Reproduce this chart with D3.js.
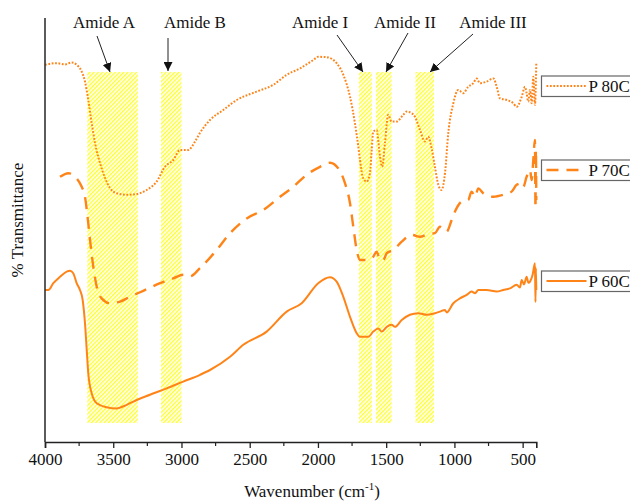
<!DOCTYPE html>
<html>
<head>
<meta charset="utf-8">
<script src="https://cdn.jsdelivr.net/npm/d3@7"></script>
<style>
  body { margin: 0; background: #fff; }
  svg { display: block; font-family: "Liberation Serif", "DejaVu Serif", serif; }
</style>
</head>
<body>
<svg id="chart" width="630" height="504"></svg>
<script>
// FTIR spectra (arbitrary % transmittance, curves are offset)
const wnP80 = [4000,3914,3853,3804,3768,3731,3707,3683,3658,3634,3597,3560,3524,3475,3401,3328,3255,3182,3121,3060,3011,2950,2901,2864,2791,2694,2595,2449,2327,2229,2132,2034,1998,1936,1863,1814,1765,1729,1704,1692,1668,1643,1619,1606,1595,1570,1545,1529,1509,1485,1460,1423,1375,1350,1313,1289,1252,1216,1192,1167,1143,1118,1094,1069,1045,1008,972,935,899,862,837,813,764,715,690,666,617,569,544,507,483,471,459,446,434,422,410,400];
const tP80 = [94.3,94.7,94.4,94.9,94.3,92.6,90.1,85.5,79.8,74.8,69.8,66,63.5,62.2,61.8,62,63,65.1,68.8,70.5,73,73,75.1,77.3,80.5,83,85.5,87.6,89.3,91.8,93.4,95.5,96.3,96.2,94.7,91.8,86.3,79.7,73.8,70.5,65.9,65.1,67.2,73,77.6,78,71.3,68.8,74.7,81.8,80.1,80.1,81.8,82.6,82.2,81.3,78,75.1,76.3,73.4,68.8,64.3,63,67.2,77.2,84.7,88,87.2,88.8,89.7,90.9,89.7,90.1,90.9,88.8,85.9,85.5,84.7,83.8,86.3,88.8,87.2,85.1,88,84.7,91.3,84.3,94.7];

const wnP70 = [3890,3829,3768,3731,3707,3683,3670,3646,3621,3585,3524,3450,3377,3280,3157,3060,2987,2938,2864,2742,2644,2522,2401,2278,2181,2083,1985,1912,1851,1802,1765,1741,1716,1692,1643,1595,1570,1545,1521,1496,1448,1386,1313,1252,1192,1143,1106,1057,1020,996,947,899,874,849,825,789,715,642,581,544,507,495,471,446,434,422,410,406,403,400];
const tP70 = [66.3,67.2,65.9,63.8,61.3,54.7,50.5,43.8,38.8,35.9,34.7,35.1,36.3,37.8,39.7,40.9,41.8,41.4,43.5,48,52.2,55.9,58,61.3,63.8,66.8,68.8,69.8,68.4,64.7,59.7,53.8,48,45.5,45.5,46.3,47.6,45.5,45.5,47.2,48,50.1,51.8,51.3,52,52.2,53.8,52.6,55.5,57.6,60.1,60.5,62.6,61.3,63.4,62.2,61.3,61.8,62.6,64.3,64.7,63.8,66.3,68,65.5,70.5,75.5,58.5,73,60.5];

const wnP60 = [4000,3976,3939,3890,3841,3817,3793,3768,3744,3724,3707,3694,3683,3658,3621,3548,3475,3401,3328,3231,3108,2987,2864,2791,2644,2547,2376,2229,2119,1998,1912,1863,1814,1765,1716,1692,1631,1595,1558,1533,1496,1460,1436,1386,1326,1265,1203,1143,1106,1069,1057,1008,959,910,874,849,825,764,690,642,593,544,520,507,490,471,458,446,427,410,406,403,400];
const tP60 = [38,38,39.7,41.3,42.6,42.8,42.2,39.7,38,35.5,29.7,22.9,17.2,12.2,9.7,8.7,8.4,9.3,10.5,11.8,13.4,15.1,16.8,18,21.3,24.3,27.6,32.6,34.7,39.7,41.2,40.1,36.3,31.3,27.2,26.3,26.3,27.6,28.4,27.6,28.8,29.3,28.8,30.5,31.8,32.2,31.8,32.2,32.6,33,32.4,34.7,35.9,36.8,37.6,37.2,38,38,37.6,38,38.4,39.3,38.6,40.5,39.4,41.3,39.8,40.1,41.8,44.7,35,43.5,38];

const seriesNames = ["P 80C", "P 70C", "P 60C"];
const seriesDash = ["1.8,1.6", "12,8", null];

// band regions (cm-1) and their labels
const bandNames = ["Amide A", "Amide B", "Amide I", "Amide II", "Amide III"];
const bandFrom = [3690, 3150, 1700, 1575, 1285];
const bandTo = [3320, 3000, 1605, 1460, 1150];

const xTicks = [4000, 3500, 3000, 2500, 2000, 1500, 1000, 500];
const xMinor = d3.range(3750, 400, -500);

const svg = d3.select("#chart");
const plotLeft = 45, plotRight = 536.3, plotTop = 18, plotBottom = 442;
const orange = "#ff8418";

const x = d3.scaleLinear().domain([4000, 400]).range([plotLeft, plotRight]);
const y = d3.scaleLinear().domain([0, 106]).range([plotBottom, plotTop]);

// hatch pattern for bands
const defs = svg.append("defs");
const pat = defs.append("pattern")
  .attr("id", "hatch")
  .attr("patternUnits", "userSpaceOnUse")
  .attr("width", 3).attr("height", 3)
  .attr("patternTransform", "rotate(45)");
pat.append("rect").attr("width", 3).attr("height", 3).attr("fill", "#fff");
pat.append("rect").attr("width", 1.3).attr("height", 3).attr("fill", "#ffff20");

const bandTop = 72, bandBottom = 423;
svg.append("g").selectAll("rect")
  .data(bandNames)
  .join("rect")
  .attr("x", (d, i) => x(bandFrom[i]))
  .attr("width", (d, i) => x(bandTo[i]) - x(bandFrom[i]))
  .attr("y", bandTop)
  .attr("height", bandBottom - bandTop)
  .attr("fill", "url(#hatch)");

// curves
const line = d3.line()
  .x(d => x(d[0]))
  .y(d => y(d[1]))
  .curve(d3.curveMonotoneX);

const allData = [
  wnP80.map((w, i) => [w, tP80[i]]),
  wnP70.map((w, i) => [w, tP70[i]]),
  wnP60.map((w, i) => [w, tP60[i]])
];

allData.forEach((d, i) => {
  svg.append("path")
    .datum(d)
    .attr("d", line)
    .attr("fill", "none")
    .attr("stroke", orange)
    .attr("stroke-width", i === 1 ? 2.4 : 2)
    .attr("stroke-dasharray", seriesDash[i]);
});

// axes
const xAxis = svg.append("g")
  .attr("transform", `translate(0,${plotBottom})`)
  .call(d3.axisBottom(x).tickValues(xTicks).tickSize(6).tickPadding(5).tickFormat(d3.format("d")));
xAxis.select(".domain").attr("stroke", "#222").attr("stroke-width", 1.6);
xAxis.selectAll(".tick line").attr("stroke", "#222").attr("stroke-width", 1.3);
xAxis.selectAll("text").attr("font-size", 17).attr("fill", "#111")
  .attr("font-family", "Liberation Serif");

svg.append("g").selectAll("line")
  .data(xMinor)
  .join("line")
  .attr("x1", d => x(d)).attr("x2", d => x(d))
  .attr("y1", plotBottom).attr("y2", plotBottom + 4)
  .attr("stroke", "#222").attr("stroke-width", 1.2);

svg.append("line")
  .attr("x1", plotLeft).attr("x2", plotLeft)
  .attr("y1", plotTop).attr("y2", plotBottom)
  .attr("stroke", "#333").attr("stroke-width", 1.6);

// axis titles
svg.append("text")
  .attr("transform", "translate(23,220) rotate(-90)")
  .attr("text-anchor", "middle")
  .attr("font-size", 17)
  .attr("fill", "#111")
  .text("% Transmittance");

const xt = svg.append("text")
  .attr("x", 312).attr("y", 497)
  .attr("text-anchor", "middle")
  .attr("font-size", 17)
  .attr("fill", "#111");
xt.append("tspan").text("Wavenumber (cm");
xt.append("tspan").attr("font-size", 11).attr("dy", -7).text("-1");
xt.append("tspan").attr("dy", 7).text(")");

// band labels with arrows
defs.append("marker")
  .attr("id", "arrow")
  .attr("viewBox", "0 0 10 10")
  .attr("refX", 10).attr("refY", 5)
  .attr("markerWidth", 9).attr("markerHeight", 9)
  .attr("markerUnits", "userSpaceOnUse")
  .attr("orient", "auto")
  .append("path").attr("d", "M0,0 L10,5 L0,10 Z").attr("fill", "#111");

const labelX = [104, 195, 320, 405, 493];
const arrowFrom = [[97, 36], [168, 38], [337, 35], [408, 33], [473, 34]];
const arrowTo = [[110, 72], [168, 71], [363, 72], [386, 72], [430, 72]];

svg.append("g").selectAll("text")
  .data(bandNames)
  .join("text")
  .attr("x", (d, i) => labelX[i])
  .attr("y", 28)
  .attr("text-anchor", "middle")
  .attr("font-size", 17)
  .attr("fill", "#111")
  .text(d => d);

svg.append("g").selectAll("line")
  .data(bandNames)
  .join("line")
  .attr("x1", (d, i) => arrowFrom[i][0]).attr("y1", (d, i) => arrowFrom[i][1])
  .attr("x2", (d, i) => arrowTo[i][0]).attr("y2", (d, i) => arrowTo[i][1])
  .attr("stroke", "#222").attr("stroke-width", 1)
  .attr("marker-end", "url(#arrow)");

// legend boxes
const legendY = [86, 170, 281];
const lg = svg.append("g");
seriesNames.forEach((name, i) => {
  const g = lg.append("g").attr("transform", `translate(541.5,${legendY[i]})`);
  g.append("rect")
    .attr("x", 0).attr("y", -10)
    .attr("width", 95).attr("height", 20.5)
    .attr("fill", "#fff").attr("stroke", "#666").attr("stroke-width", 1.2);
  g.append("line")
    .attr("x1", 5).attr("x2", 45).attr("y1", 0).attr("y2", 0)
    .attr("stroke", orange)
    .attr("stroke-width", i === 1 ? 2.4 : 2)
    .attr("stroke-dasharray", seriesDash[i]);
  g.append("text")
    .attr("x", 47).attr("y", 6)
    .attr("font-size", 17).attr("fill", "#111")
    .text(name);
});
</script>
</body>
</html>
